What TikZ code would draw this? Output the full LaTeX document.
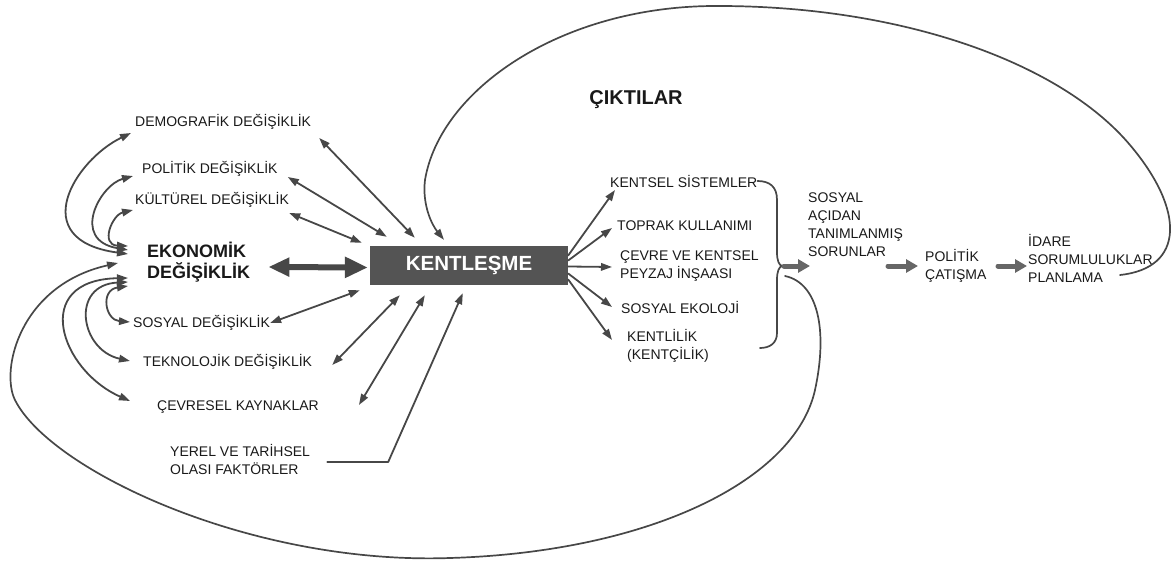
\documentclass[tikz,border=0pt]{standalone}
\usepackage{fontspec}
\setmainfont{Liberation Sans}
\usetikzlibrary{arrows.meta}
\definecolor{ink}{rgb}{0.1,0.1,0.1}
\definecolor{linegray}{rgb}{0.28,0.28,0.28}
\definecolor{boxgray}{rgb}{0.33,0.33,0.33}
\definecolor{fatgray}{rgb}{0.4,0.4,0.4}
\tikzset{
    lbl/.style = {font=\fontsize{14}{18}\selectfont, text=ink, inner sep=0pt, anchor=west, align=left},
    dbl/.style = {{Triangle[length=11pt,width=7.5pt]}-{Triangle[length=11pt,width=7.5pt]}, line width=1.8pt, draw=linegray},
    one/.style = {-{Triangle[length=11pt,width=7.5pt]}, line width=1.8pt, draw=linegray},
    bigarrow/.style = {{Triangle[length=21pt,width=18pt]}-{Triangle[length=23pt,width=20pt]}, line width=6pt, draw=linegray},
    fat/.style = {-{Triangle[length=12pt,width=13pt]}, line width=5pt, draw=fatgray},
    bigline/.style = {line width=1.7pt, draw=linegray}
}

\begin{document}
\begin{tikzpicture}[line cap=round,line join=round,x=1pt,y=-1pt]
    \useasboundingbox (0,0) rectangle (1175,564);

    \node [lbl] (demo) at (135,122) {DEMOGRAFİK DEĞİŞİKLİK};
    \node [lbl] (polit) at (142,169) {POLİTİK DEĞİŞİKLİK};
    \node [lbl] (kult) at (135,200) {KÜLTÜREL DEĞİŞİKLİK};
    \node [lbl, font=\bfseries\fontsize{18}{21}\selectfont, inner xsep=18pt] (eko) at (129,262) {EKONOMİK\\DEĞİŞİKLİK};
    \node [lbl] (sosy) at (133,323) {SOSYAL DEĞİŞİKLİK};
    \node [lbl] (tekno) at (143,362) {TEKNOLOJİK DEĞİŞİKLİK};
    \node [lbl] (cevres) at (157,407) {ÇEVRESEL KAYNAKLAR};
    \node [lbl] (yerel) at (170,459) {YEREL VE TARİHSEL\\OLASI FAKTÖRLER};

    \node [fill=boxgray, text=white, font=\bfseries\fontsize{20.5}{24}\selectfont, minimum width=198pt, minimum height=39pt, inner sep=0pt] (kent) at (469,265.5) {KENTLEŞME};

    \node [lbl, font=\bfseries\fontsize{20}{24}\selectfont, anchor=center] (cikti) at (636,100) {ÇIKTILAR};
    \node [lbl] (ksis) at (610,181) {KENTSEL SİSTEMLER};
    \node [lbl] (toprak) at (617,226) {TOPRAK KULLANIMI};
    \node [lbl] (cevre) at (620,266) {ÇEVRE VE KENTSEL\\PEYZAJ İNŞAASI};
    \node [lbl] (ekol) at (621,307) {SOSYAL EKOLOJİ};
    \node [lbl] (kentli) at (627,346) {KENTLİLİK\\(KENTÇİLİK)};

    \node [lbl] (sorun) at (808,225) {SOSYAL\\AÇIDAN\\TANIMLANMIŞ\\SORUNLAR};
    \node [lbl] (catis) at (925,266) {POLİTİK\\ÇATIŞMA};
    \node [lbl] (idare) at (1028,258) {İDARE\\SORUMLULUKLAR\\PLANLAMA};

    % feedback round the left factors
    \draw [dbl] ([shift={(-4,11)}]demo.west) .. controls (75,160) and (25,240) .. ([shift={(-1,-8)}]eko.west);
    \draw [dbl] ([shift={(-9,7)}]polit.west) .. controls (100,185) and (70,240) .. ([shift={(-1,-12)}]eko.west);
    \draw [dbl] ([shift={(-2,10)}]kult.west) .. controls (112,215) and (100,245) .. ([shift={(-1,-16)}]eko.west);
    \draw [dbl] ([shift={(-1,24)}]eko.west) .. controls (100,290) and (105,320) .. ([shift={(-3,-1)}]sosy.west);
    \draw [dbl] ([shift={(-1,20)}]eko.west) .. controls (70,285) and (80,350) .. ([shift={(-13,-1)}]tekno.west);
    \draw [dbl] ([shift={(-1,16)}]eko.west) .. controls (30,280) and (60,370) .. ([shift={(-27,-6)}]cevres.west);

    \draw [dbl] ([shift={(8,16)}]demo.east) -- ([shift={(45,-8)}]kent.north west);
    \draw [dbl] ([shift={(10,8)}]polit.east) -- ([shift={(17,-9)}]kent.north west);
    \draw [dbl] ([shift={(0,13)}]kult.east) -- ([shift={(-8,-3)}]kent.north west);
    \draw [bigarrow] ([shift={(0,5)}]eko.east) -- ([shift={(-2,2)}]kent.west);
    \draw [dbl] (sosy.east) -- ([shift={(-10,5)}]kent.south west);
    \draw [dbl] ([shift={(20,3)}]tekno.east) -- ([shift={(30,10)}]kent.south west);
    \draw [dbl] ([shift={(40,-2)}]cevres.east) -- ([shift={(55,10)}]kent.south west);
    \draw [one] ([shift={(17,3)}]yerel.east) -- ++(61,0) -- ([shift={(93,8)}]kent.south west);

    \draw [one] ([shift={(0,-10)}]kent.east) -- ([shift={(5,9)}]ksis.west);
    \draw [one] ([shift={(0,-5)}]kent.east) -- ([shift={(-5,2)}]toprak.west);
    \draw [one] ([shift={(0,1)}]kent.east) -- ([shift={(-8,1)}]cevre.west);
    \draw [one] ([shift={(0,8)}]kent.east) -- ([shift={(-9,0)}]ekol.west);
    \draw [one] ([shift={(0,14)}]kent.east) -- ([shift={(-15,-6)}]kentli.west);

    % brace
    \coordinate (bracetip) at (782,266);
    \draw [bigline] (ksis.east) .. controls (770,181) and (777,187) .. (777,200) -- (777,252) .. controls (777,261) and (779,265) .. (bracetip) .. controls (779,267) and (777,271) .. (777,280) -- (777,333) .. controls (777,343) and (770,348) .. (760,348);

    \draw [fat] ([xshift=2pt]bracetip) -- ([xshift=2pt]sorun.west |- bracetip);
    \draw [fat] ([xshift=-37pt]catis.west |- bracetip) -- ([xshift=-7pt]catis.west |- bracetip);
    \draw [fat] ([xshift=-30pt]idare.west |- bracetip) -- ([xshift=-1pt]idare.west |- bracetip);

    % outer loops
    \coordinate (loopstart) at (785,276);
    \draw [bigline, -{Triangle[length=11pt,width=7.5pt]}] (loopstart) .. controls (818,283) and (828,330) .. (815,390) .. controls (795,480) and (650,552) .. (450,558) .. controls (250,565) and (50,470) .. (15,400) .. controls (0,370) and (20,285) .. ([shift={(-11,1)}]eko.west);
    \coordinate (topstart) at (1120,275);
    \draw [bigline, -{Triangle[length=11pt,width=7.5pt]}] (topstart) .. controls (1185,268) and (1185,210) .. (1130,145) .. controls (1060,62) and (900,5) .. (713,6) .. controls (560,7) and (440,90) .. (425,180) .. controls (422,205) and (432,225) .. ([shift={(-25,-6)}]kent.north);
\end{tikzpicture}
\end{document}
